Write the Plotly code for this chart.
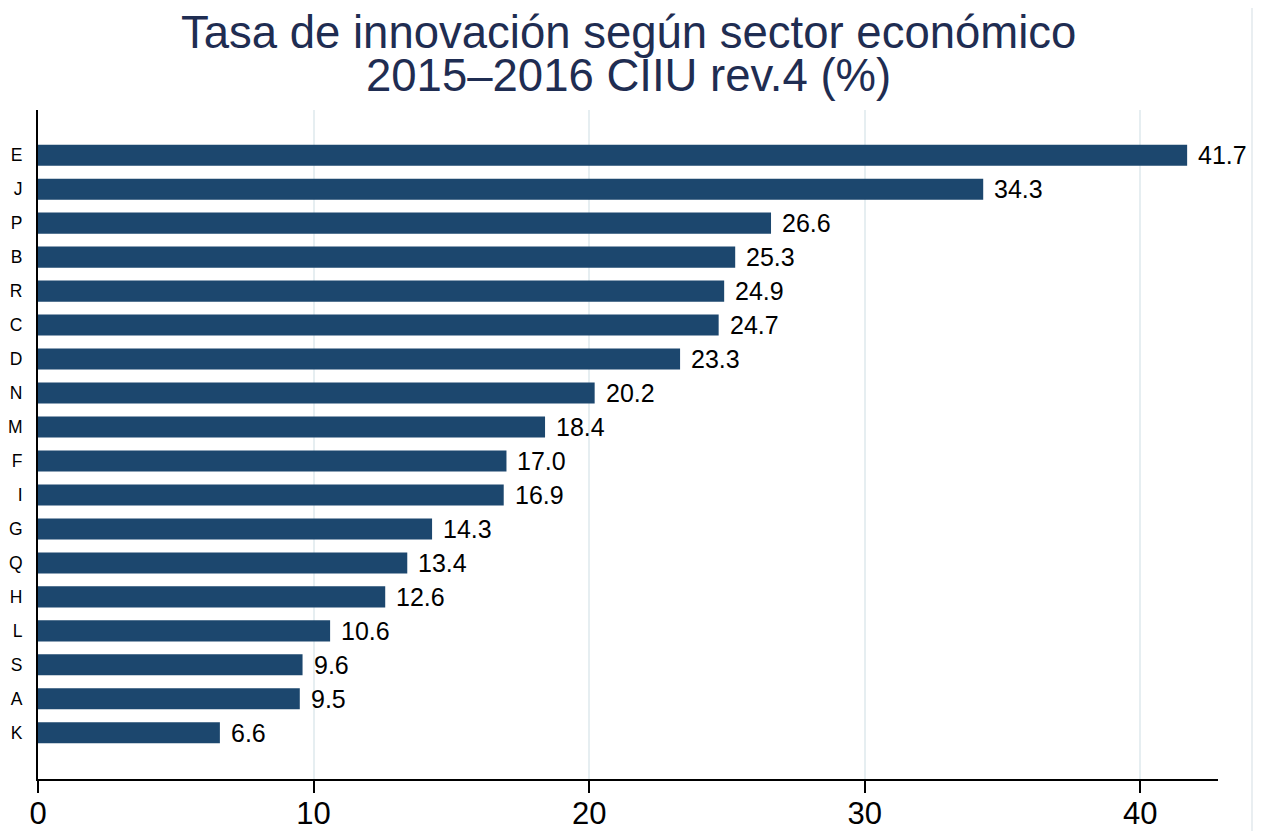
import plotly.graph_objects as go

sectors = ["E", "J", "P", "B", "R", "C", "D", "N", "M", "F", "I", "G", "Q", "H", "L", "S", "A", "K"]
rates = [41.7, 34.3, 26.6, 25.3, 24.9, 24.7, 23.3, 20.2, 18.4, 17.0, 16.9, 14.3, 13.4, 12.6, 10.6, 9.6, 9.5, 6.6]
x_ticks = [0, 10, 20, 30, 40]
title_line1 = "Tasa de innovación según sector económico"
title_line2 = "2015–2016 CIIU rev.4 (%)"

FONT = "Liberation Sans, Arial, Helvetica, sans-serif"
BAR = "#1c476e"

fig = go.Figure()
fig.add_trace(go.Bar(
    x=rates, y=sectors, orientation="h",
    marker=dict(color=BAR, line=dict(width=0)),
    width=0.62,
    hoverinfo="x+y",
))

for s, v in zip(sectors, rates):
    fig.add_annotation(x=v, y=s, text=f"{v:.1f}", showarrow=False,
                       xanchor="left", yanchor="middle", xshift=9,
                       font=dict(family=FONT, size=25, color="#000000"))

fig.add_annotation(x=0.5, y=1, xref="paper", yref="paper", yshift=78,
                   text=title_line1, showarrow=False, xanchor="center", yanchor="middle",
                   font=dict(family=FONT, size=45.5, color="#1f2d52"))
fig.add_annotation(x=0.5, y=1, xref="paper", yref="paper", yshift=35,
                   text=title_line2, showarrow=False, xanchor="center", yanchor="middle",
                   font=dict(family=FONT, size=45.5, color="#1f2d52"))

# faint outer border on the right
fig.add_shape(type="line", xref="paper", yref="paper", x0=1.0288, x1=1.0288, y0=-0.1, y1=1.2,
              line=dict(color="#e9eef1", width=2))

# the page body has an 8px margin, so the figure is shrunk by 8px on the top/left
fig.update_layout(
    width=1254, height=823,
    margin=dict(l=30, r=44, t=102, b=52, autoexpand=False),
    paper_bgcolor="white", plot_bgcolor="white",
    showlegend=False,
    bargap=0.38,
    font=dict(family=FONT, color="#000000"),
    xaxis=dict(
        range=[0, 42.82], tickvals=x_ticks, ticktext=[str(t) for t in x_ticks],
        showgrid=True, gridcolor="#e6eef1", gridwidth=2,
        showline=True, linecolor="black", linewidth=2,
        ticks="outside", ticklen=12, tickwidth=2, tickcolor="black",
        ticklabelstandoff=-6,
        tickfont=dict(family=FONT, size=31, color="black"),
        zeroline=False, fixedrange=True, automargin=False,
    ),
    yaxis=dict(
        categoryorder="array", categoryarray=sectors,
        range=[18.36, -1.33],
        showgrid=False, showline=True, linecolor="black", linewidth=2,
        ticks="", ticklabelstandoff=10,
        tickfont=dict(family=FONT, size=17.5, color="black"),
        zeroline=False, fixedrange=True, automargin=False,
    ),
)

fig.write_html("out.html")
